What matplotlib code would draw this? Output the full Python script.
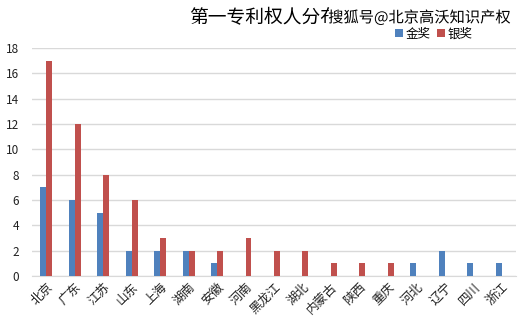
import numpy as np
import matplotlib.pyplot as plt
import matplotlib.patheffects as pe

plt.rcParams['font.family'] = ['Noto Sans CJK SC', 'DejaVu Sans']

# 省份及金奖、银奖数量
provinces = ['北京', '广东', '江苏', '山东', '上海', '湖南', '安徽', '河南', '黑龙江',
             '湖北', '内蒙古', '陕西', '重庆', '河北', '辽宁', '四川', '浙江']
gold = [7, 6, 5, 2, 2, 2, 1, 0, 0, 0, 0, 0, 0, 1, 2, 1, 1]
silver = [17, 12, 8, 6, 3, 2, 2, 3, 2, 2, 1, 1, 1, 0, 0, 0, 0]

fig = plt.figure(figsize=(5.31, 3.24), dpi=100)
ax = fig.add_axes([0.060, 0.148, 0.912, 0.704])

x = np.arange(len(provinces))
w = 0.21
ax.bar(x - w / 2, gold, w, color='#4f81bd', label='金奖', zorder=3)
ax.bar(x + w / 2, silver, w, color='#c0504d', label='银奖', zorder=3)

ax.set_xlim(-0.5, len(provinces) - 0.5)
ax.set_ylim(0, 18)
ax.set_yticks(range(0, 19, 2))
ax.yaxis.grid(True, color='#d9d9d9', linewidth=1, zorder=0)
for s in ['top', 'right', 'left']:
    ax.spines[s].set_visible(False)
ax.spines['bottom'].set_color('#d9d9d9')
ax.tick_params(axis='both', length=0, colors='#222222')
ax.tick_params(axis='y', pad=9, labelsize=8.5)
ax.tick_params(axis='x', pad=3)
ax.set_xticks(x)
ax.set_xticklabels(provinces, rotation=45, ha='right', rotation_mode='anchor', fontsize=9)

fig.text(0.357, 0.945, '第一专利权人分布', fontsize=13.5, ha='left', va='center')
fig.text(0.618, 0.945, '搜狐号@北京高沃知识产权', fontsize=11, ha='left', va='center',
         path_effects=[pe.withStroke(linewidth=2.5, foreground='white')])

ax.legend(loc='lower left', bbox_to_anchor=(0.74, 1.01), ncol=2, frameon=False,
          fontsize=9, handlelength=0.6, handleheight=0.6, handletextpad=0.25,
          columnspacing=0.5, borderaxespad=0)

plt.savefig('out.png', dpi=100)
